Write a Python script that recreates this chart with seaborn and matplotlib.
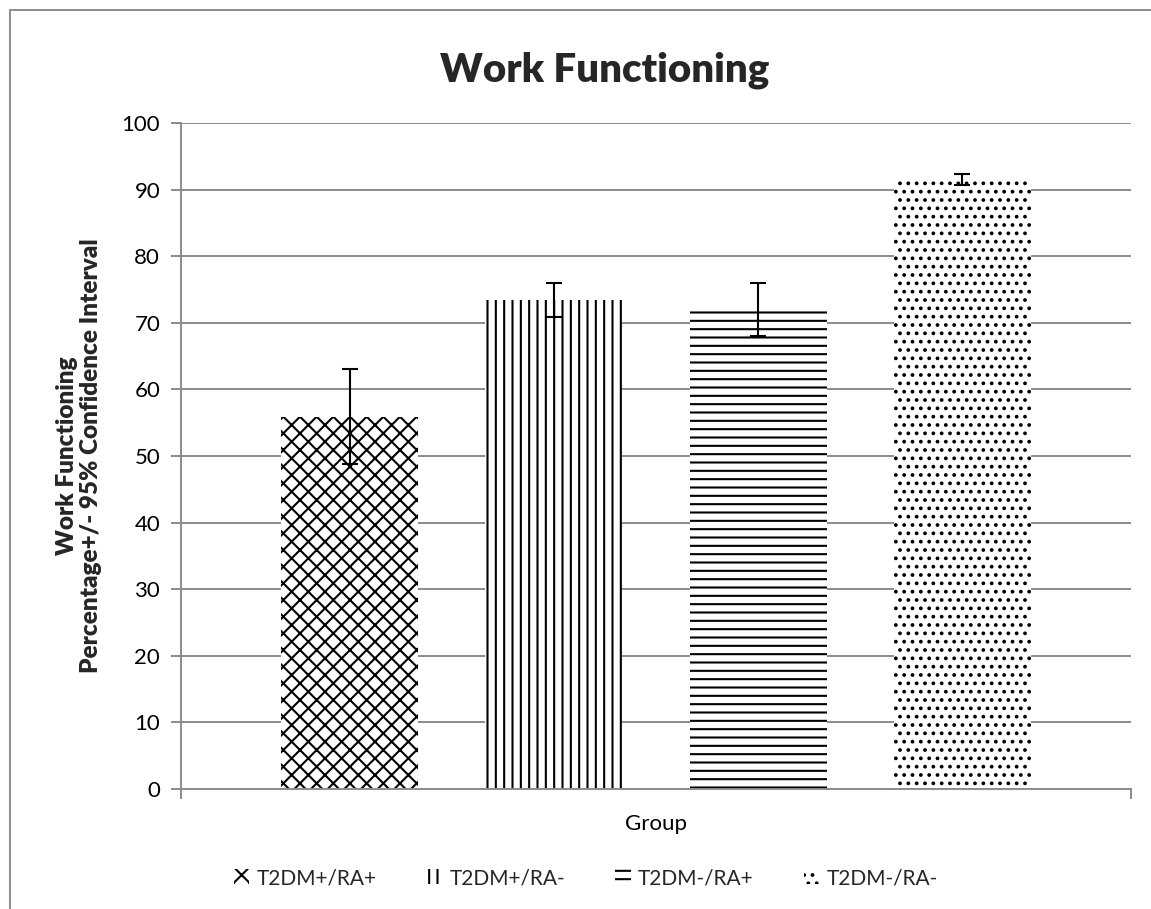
import pandas as pd
import matplotlib.pyplot as plt
import matplotlib.patches as mpatches
import seaborn as sns

# ── Data ──────────────────────────────────────────────────────────────────────
groups = ['T2DM+/RA+', 'T2DM+/RA-', 'T2DM-/RA+', 'T2DM-/RA-']
means = [55.9, 73.4, 72.0, 91.5]
ci_half = [7.1, 2.5, 4.0, 0.8]
hatches = ['xx', '||', '--', '..']
yticks = list(range(0, 101, 10))

df = pd.DataFrame({'Category': ['Group'] * len(groups),
                   'Series': groups, 'Value': means})

sns.set_style('white')
plt.rcParams['font.family'] = ['Lato', 'DejaVu Sans']
plt.rcParams['hatch.linewidth'] = 1.5
GRID = '#8c8c8c'

fig = plt.figure(figsize=(11.51, 9.09), dpi=100)
ax = fig.add_axes([0.1573, 0.132, 0.8253, 0.7327])

sns.barplot(data=df, x='Category', y='Value', hue='Series',
            palette=['white'] * 4, width=0.86, gap=0.33,
            errorbar=None, legend=False, ax=ax)

for cont, h, m, e in zip(ax.containers, hatches, means, ci_half):
    for p in cont.patches:
        p.set_hatch(h)
        p.set_edgecolor('black')
        p.set_linewidth(0)
        x = p.get_x() + p.get_width() / 2
        ax.errorbar(x, m, yerr=e, color='black', capsize=6,
                    elinewidth=1.5, capthick=1.5, zorder=5)

# ── Axes styling ──────────────────────────────────────────────────────────────
ax.set_ylim(0, 100)
ax.set_xlim(-0.5, 0.5)
ax.set_yticks(yticks)
ax.yaxis.grid(True, color=GRID, linewidth=1.4)
ax.set_axisbelow(True)
for s in ['top', 'right']:
    ax.spines[s].set_visible(False)
for s in ['left', 'bottom']:
    ax.spines[s].set_color(GRID)
    ax.spines[s].set_linewidth(1.4)
ax.tick_params(axis='y', labelsize=16, length=7, width=1.4,
               color=GRID, direction='out', left=True, pad=8,
               labelcolor='black')
ax.tick_params(axis='x', labelsize=16, length=0, pad=18,
               labelcolor='black')
ax.set_xticks([-0.5, 0.5], minor=True)
ax.tick_params(axis='x', which='minor', length=7, width=1.4,
               color=GRID, direction='out', bottom=True)
ax.set_xlabel('')
ax.set_ylabel('Work Functioning\nPercentage+/- 95% Confidence Interval',
              fontsize=17.5, fontweight='heavy', labelpad=14,
              linespacing=1.1)

fig.text(0.525, 0.923, 'Work Functioning', fontsize=29,
         fontweight='heavy', ha='center', va='center')

ax.legend(ax.containers, groups, loc='center', ncol=4, frameon=False,
          bbox_to_anchor=(0.509, 0.034), bbox_transform=fig.transFigure,
          prop={'size': 15}, handlelength=0.75, handleheight=0.75,
          handletextpad=0.35, columnspacing=2.4)

# chart area border (left and top visible)
fig.patches.append(mpatches.Rectangle((10 / 1151, -0.2), 1.5, 1.2 - 10 / 909,
                                      transform=fig.transFigure, fill=False,
                                      edgecolor=GRID, linewidth=1.4,
                                      clip_on=False))

plt.savefig('out.png', dpi=100)
